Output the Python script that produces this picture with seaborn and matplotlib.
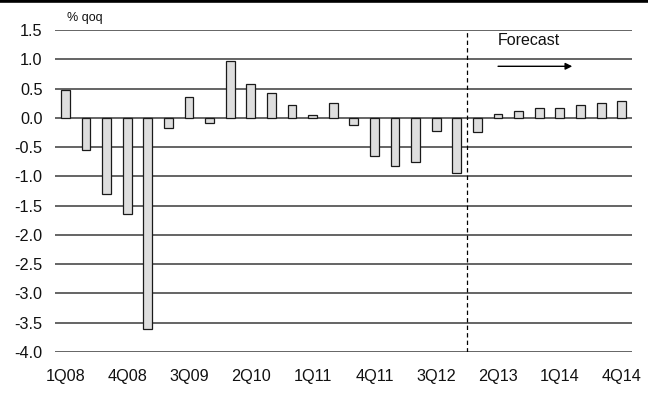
import matplotlib
matplotlib.use("Agg")
import matplotlib.pyplot as plt
import seaborn as sns
import pandas as pd

# Quarterly GDP growth, % qoq (history through 4Q12, forecast thereafter)
quarters = [f"{q}Q{y:02d}" for y in range(8, 15) for q in range(1, 5)]
growth = [0.48, -0.55, -1.30, -1.65, -3.60, -0.17, 0.36, -0.08,
          0.97, 0.58, 0.43, 0.22, 0.05, 0.25, -0.12, -0.66,
          -0.83, -0.75, -0.22, -0.95, -0.25, 0.06, 0.11, 0.16,
          0.16, 0.22, 0.26, 0.28]
y_ticks = [1.5, 1.0, 0.5, 0.0, -0.5, -1.0, -1.5, -2.0, -2.5, -3.0, -3.5, -4.0]
forecast_start = "1Q13"

df = pd.DataFrame({"quarter": quarters, "growth": growth})

sns.set_theme(style="white")
plt.rcParams["font.family"] = ["Liberation Sans", "DejaVu Sans"]

fig = plt.figure(figsize=(6.48, 4.0), dpi=100)
ax = fig.add_axes([0.085, 0.12, 0.8903, 0.805])

sns.barplot(data=df, x="quarter", y="growth", color="#dedede",
            edgecolor="#1a1a1a", linewidth=0.9, width=0.43,
            saturation=1, ax=ax, zorder=3)

ax.set_ylim(-4.0, 1.5)
ax.set_xlim(-0.5, len(quarters) - 0.5)
ax.set_yticks(y_ticks)
ax.set_yticklabels([f"{v:.1f}" for v in y_ticks], fontsize=11.7)
ax.set_xticks(range(0, len(quarters), 3))
ax.set_xticklabels(quarters[::3], fontsize=11.7)
ax.tick_params(axis="both", length=0, colors="#111111")
ax.tick_params(axis="y", pad=9)
ax.tick_params(axis="x", pad=12)
ax.set_xlabel("")
ax.set_ylabel("")

for v in y_ticks:
    ax.axhline(v, color="#3a3a3a", linewidth=1.1, zorder=1)
for s in ax.spines.values():
    s.set_visible(False)

# Boundary between actual data and forecast
fx = quarters.index(forecast_start) - 0.5
ax.axvline(fx, color="black", linewidth=0.9, linestyle=(0, (3.5, 2.5)), zorder=4)

ax.text(21.0, 1.32, "Forecast", fontsize=11.5, va="center", ha="left", color="#111111")
ax.annotate("", xy=(24.6, 0.88), xytext=(21.0, 0.88),
            arrowprops=dict(arrowstyle="-|>", color="black", lw=1.0,
                            mutation_scale=10, shrinkA=0, shrinkB=0))

fig.text(67 / 648, 1 - 18 / 400, "% qoq", fontsize=9, va="center", ha="left", color="#111111")

# Heavy rule across the top of the figure
fig.add_artist(plt.Line2D([0, 1], [0.9965, 0.9965], transform=fig.transFigure,
                          color="black", linewidth=2.6))

fig.savefig("out.png", dpi=100)
